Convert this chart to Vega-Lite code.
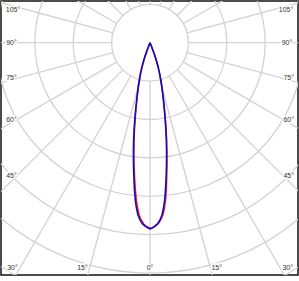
{
  "$schema": "https://vega.github.io/schema/vega-lite/v6.json",
  "width": 297,
  "height": 274,
  "autosize": {"type": "none"},
  "padding": {"left": 1, "top": 1, "right": 1, "bottom": 6},
  "background": "white",
  "config": {"view": {"stroke": "#111111", "strokeWidth": 1.5}},
  "datasets": {
    "rings": [{"r": 100}, {"r": 200}, {"r": 300}, {"r": 400}, {"r": 500}, {"r": 600}, {"r": 700}],
    "spokes": [
      {"a": 0, "x": 0, "y": -100, "x2": 0, "y2": -800},
      {"a": 15, "x": 25.88, "y": -96.59, "x2": 207.06, "y2": -772.74},
      {"a": 30, "x": 50, "y": -86.6, "x2": 400, "y2": -692.82},
      {"a": 45, "x": 70.71, "y": -70.71, "x2": 565.69, "y2": -565.69},
      {"a": 60, "x": 86.6, "y": -50, "x2": 692.82, "y2": -400},
      {"a": 75, "x": 96.59, "y": -25.88, "x2": 772.74, "y2": -207.06},
      {"a": 90, "x": 100, "y": 0, "x2": 800, "y2": 0},
      {"a": 105, "x": 96.59, "y": 25.88, "x2": 772.74, "y2": 207.06},
      {"a": 120, "x": 86.6, "y": 50, "x2": 692.82, "y2": 400},
      {"a": 135, "x": 70.71, "y": 70.71, "x2": 565.69, "y2": 565.69},
      {"a": 150, "x": 50, "y": 86.6, "x2": 400, "y2": 692.82},
      {"a": 165, "x": 25.88, "y": 96.59, "x2": 207.06, "y2": 772.74},
      {"a": 180, "x": 0, "y": 100, "x2": 0, "y2": 800},
      {"a": 195, "x": -25.88, "y": 96.59, "x2": -207.06, "y2": 772.74},
      {"a": 210, "x": -50, "y": 86.6, "x2": -400, "y2": 692.82},
      {"a": 225, "x": -70.71, "y": 70.71, "x2": -565.69, "y2": 565.69},
      {"a": 240, "x": -86.6, "y": 50, "x2": -692.82, "y2": 400},
      {"a": 255, "x": -96.59, "y": 25.88, "x2": -772.74, "y2": 207.06},
      {"a": 270, "x": -100, "y": 0, "x2": -800, "y2": 0},
      {"a": 285, "x": -96.59, "y": -25.88, "x2": -772.74, "y2": -207.06},
      {"a": 300, "x": -86.6, "y": -50, "x2": -692.82, "y2": -400},
      {"a": 315, "x": -70.71, "y": -70.71, "x2": -565.69, "y2": -565.69},
      {"a": 330, "x": -50, "y": -86.6, "x2": -400, "y2": -692.82},
      {"a": 345, "x": -25.88, "y": -96.59, "x2": -207.06, "y2": -772.74}
    ],
    "curve": [
      {"s": "C90", "i": 0, "x": 0, "y": 0},
      {"s": "C90", "i": 1, "x": -4.0, "y": -10.0},
      {"s": "C90", "i": 2, "x": -8.5, "y": -22.0},
      {"s": "C90", "i": 3, "x": -13.3, "y": -36.0},
      {"s": "C90", "i": 4, "x": -17.6, "y": -50.3},
      {"s": "C90", "i": 5, "x": -21.5, "y": -65.0},
      {"s": "C90", "i": 6, "x": -24.8, "y": -80.0},
      {"s": "C90", "i": 7, "x": -27.8, "y": -96.0},
      {"s": "C90", "i": 8, "x": -30.6, "y": -114.0},
      {"s": "C90", "i": 9, "x": -33.4, "y": -136.2},
      {"s": "C90", "i": 10, "x": -36.2, "y": -162.2},
      {"s": "C90", "i": 11, "x": -38.9, "y": -190.9},
      {"s": "C90", "i": 12, "x": -41.1, "y": -222.1},
      {"s": "C90", "i": 13, "x": -42.6, "y": -253.4},
      {"s": "C90", "i": 14, "x": -43.2, "y": -284.6},
      {"s": "C90", "i": 15, "x": -43.0, "y": -318.5},
      {"s": "C90", "i": 16, "x": -41.9, "y": -352.3},
      {"s": "C90", "i": 17, "x": -40.4, "y": -383.6},
      {"s": "C90", "i": 18, "x": -38.3, "y": -409.6},
      {"s": "C90", "i": 19, "x": -35.2, "y": -430.5},
      {"s": "C90", "i": 20, "x": -31.3, "y": -448.7},
      {"s": "C90", "i": 21, "x": -26.0, "y": -461.7},
      {"s": "C90", "i": 22, "x": -19.5, "y": -472.1},
      {"s": "C90", "i": 23, "x": -11.7, "y": -478.6},
      {"s": "C90", "i": 24, "x": -5.2, "y": -482.6},
      {"s": "C90", "i": 25, "x": 0, "y": -484.6},
      {"s": "C90", "i": 26, "x": 5.2, "y": -482.6},
      {"s": "C90", "i": 27, "x": 11.7, "y": -478.6},
      {"s": "C90", "i": 28, "x": 19.5, "y": -472.1},
      {"s": "C90", "i": 29, "x": 26.0, "y": -461.7},
      {"s": "C90", "i": 30, "x": 31.3, "y": -448.7},
      {"s": "C90", "i": 31, "x": 35.2, "y": -430.5},
      {"s": "C90", "i": 32, "x": 38.3, "y": -409.6},
      {"s": "C90", "i": 33, "x": 40.4, "y": -383.6},
      {"s": "C90", "i": 34, "x": 41.9, "y": -352.3},
      {"s": "C90", "i": 35, "x": 43.0, "y": -318.5},
      {"s": "C90", "i": 36, "x": 43.2, "y": -284.6},
      {"s": "C90", "i": 37, "x": 42.6, "y": -253.4},
      {"s": "C90", "i": 38, "x": 41.1, "y": -222.1},
      {"s": "C90", "i": 39, "x": 38.9, "y": -190.9},
      {"s": "C90", "i": 40, "x": 36.2, "y": -162.2},
      {"s": "C90", "i": 41, "x": 33.4, "y": -136.2},
      {"s": "C90", "i": 42, "x": 30.6, "y": -114.0},
      {"s": "C90", "i": 43, "x": 27.8, "y": -96.0},
      {"s": "C90", "i": 44, "x": 24.8, "y": -80.0},
      {"s": "C90", "i": 45, "x": 21.5, "y": -65.0},
      {"s": "C90", "i": 46, "x": 17.6, "y": -50.3},
      {"s": "C90", "i": 47, "x": 13.3, "y": -36.0},
      {"s": "C90", "i": 48, "x": 8.5, "y": -22.0},
      {"s": "C90", "i": 49, "x": 4.0, "y": -10.0},
      {"s": "C90", "i": 50, "x": 0, "y": 0},
      {"s": "C0", "i": 0, "x": 0, "y": 0},
      {"s": "C0", "i": 1, "x": -3.6, "y": -10.0},
      {"s": "C0", "i": 2, "x": -8.0, "y": -22.0},
      {"s": "C0", "i": 3, "x": -12.8, "y": -36.0},
      {"s": "C0", "i": 4, "x": -17.0, "y": -50.3},
      {"s": "C0", "i": 5, "x": -20.9, "y": -65.0},
      {"s": "C0", "i": 6, "x": -24.2, "y": -80.0},
      {"s": "C0", "i": 7, "x": -27.1, "y": -96.0},
      {"s": "C0", "i": 8, "x": -29.9, "y": -114.0},
      {"s": "C0", "i": 9, "x": -32.6, "y": -136.2},
      {"s": "C0", "i": 10, "x": -35.4, "y": -162.2},
      {"s": "C0", "i": 11, "x": -38.0, "y": -190.9},
      {"s": "C0", "i": 12, "x": -40.1, "y": -222.1},
      {"s": "C0", "i": 13, "x": -41.5, "y": -253.4},
      {"s": "C0", "i": 14, "x": -41.9, "y": -284.6},
      {"s": "C0", "i": 15, "x": -41.5, "y": -318.5},
      {"s": "C0", "i": 16, "x": -40.0, "y": -352.3},
      {"s": "C0", "i": 17, "x": -38.0, "y": -383.6},
      {"s": "C0", "i": 18, "x": -35.6, "y": -409.6},
      {"s": "C0", "i": 19, "x": -32.2, "y": -430.5},
      {"s": "C0", "i": 20, "x": -28.2, "y": -448.7},
      {"s": "C0", "i": 21, "x": -22.8, "y": -461.7},
      {"s": "C0", "i": 22, "x": -16.4, "y": -472.1},
      {"s": "C0", "i": 23, "x": -8.6, "y": -478.6},
      {"s": "C0", "i": 24, "x": -2.1, "y": -482.6},
      {"s": "C0", "i": 25, "x": 2.8, "y": -484.0},
      {"s": "C0", "i": 26, "x": 8.2, "y": -481.6},
      {"s": "C0", "i": 27, "x": 14.8, "y": -477.0},
      {"s": "C0", "i": 28, "x": 22.4, "y": -470.1},
      {"s": "C0", "i": 29, "x": 28.9, "y": -459.7},
      {"s": "C0", "i": 30, "x": 34.2, "y": -446.7},
      {"s": "C0", "i": 31, "x": 38.0, "y": -428.5},
      {"s": "C0", "i": 32, "x": 40.8, "y": -407.6},
      {"s": "C0", "i": 33, "x": 42.5, "y": -381.6},
      {"s": "C0", "i": 34, "x": 43.6, "y": -350.3},
      {"s": "C0", "i": 35, "x": 44.2, "y": -318.5},
      {"s": "C0", "i": 36, "x": 44.1, "y": -284.6},
      {"s": "C0", "i": 37, "x": 43.3, "y": -253.4},
      {"s": "C0", "i": 38, "x": 41.7, "y": -222.1},
      {"s": "C0", "i": 39, "x": 39.4, "y": -190.9},
      {"s": "C0", "i": 40, "x": 36.7, "y": -162.2},
      {"s": "C0", "i": 41, "x": 33.8, "y": -136.2},
      {"s": "C0", "i": 42, "x": 31.0, "y": -114.0},
      {"s": "C0", "i": 43, "x": 28.1, "y": -96.0},
      {"s": "C0", "i": 44, "x": 25.0, "y": -80.0},
      {"s": "C0", "i": 45, "x": 21.7, "y": -65.0},
      {"s": "C0", "i": 46, "x": 17.8, "y": -50.3},
      {"s": "C0", "i": 47, "x": 13.4, "y": -36.0},
      {"s": "C0", "i": 48, "x": 8.6, "y": -22.0},
      {"s": "C0", "i": 49, "x": 4.1, "y": -10.0},
      {"s": "C0", "i": 50, "x": 0, "y": 0}
    ],
    "labels": [
      {"t": "105°", "x": -356.8, "y": 85.2},
      {"t": "90°", "x": -360.7, "y": 0},
      {"t": "75°", "x": -360.7, "y": -92.7},
      {"t": "60°", "x": -360.7, "y": -201.3},
      {"t": "45°", "x": -360.7, "y": -347.1},
      {"t": "30°", "x": -358.1, "y": -585.9},
      {"t": "15°", "x": -175.8, "y": -585.9},
      {"t": "0°", "x": 0, "y": -585.9},
      {"t": "15°", "x": 173.7, "y": -585.9},
      {"t": "30°", "x": 358.6, "y": -585.9},
      {"t": "45°", "x": 361.2, "y": -347.1},
      {"t": "60°", "x": 361.2, "y": -201.3},
      {"t": "75°", "x": 361.2, "y": -92.7},
      {"t": "90°", "x": 356.8, "y": 0},
      {"t": "105°", "x": 354.2, "y": 85.2}
    ]
  },
  "layer": [
    {
      "data": {"name": "rings"},
      "mark": {"type": "arc", "filled": false, "stroke": "#d2d2d2", "strokeWidth": 1.3, "theta": 0, "theta2": 6.2832, "clip": true},
      "encoding": {
        "x": {"datum": 0, "type": "quantitative", "scale": {"domain": [-388.0, 385.4], "nice": false, "zero": false}, "axis": null},
        "y": {"datum": 0, "type": "quantitative", "scale": {"domain": [-605, 108.6], "nice": false, "zero": false}, "axis": null},
        "radius": {"field": "r", "type": "quantitative", "stack": null, "scale": {"type": "linear", "domain": [0, 100], "range": [0, 38.4], "zero": true}, "legend": null}
      }
    },
    {
      "data": {"name": "spokes"},
      "mark": {"type": "rule", "stroke": "#d2d2d2", "strokeWidth": 1.3, "clip": true},
      "encoding": {
        "x": {"field": "x", "type": "quantitative", "scale": {"domain": [-388.0, 385.4], "nice": false, "zero": false}, "axis": null},
        "y": {"field": "y", "type": "quantitative", "scale": {"domain": [-605, 108.6], "nice": false, "zero": false}, "axis": null},
        "x2": {"field": "x2"},
        "y2": {"field": "y2"}
      }
    },
    {
      "data": {"name": "labels"},
      "mark": {"type": "text", "font": "Liberation Sans", "fontSize": 7, "align": "center", "baseline": "middle", "fill": "white", "stroke": "white", "strokeWidth": 3},
      "encoding": {
        "x": {"field": "x", "type": "quantitative", "scale": {"domain": [-388.0, 385.4], "nice": false, "zero": false}, "axis": null},
        "y": {"field": "y", "type": "quantitative", "scale": {"domain": [-605, 108.6], "nice": false, "zero": false}, "axis": null},
        "text": {"field": "t"}
      }
    },
    {
      "data": {"name": "labels"},
      "mark": {"type": "text", "font": "Liberation Sans", "fontSize": 7, "align": "center", "baseline": "middle", "fill": "#333333"},
      "encoding": {
        "x": {"field": "x", "type": "quantitative", "scale": {"domain": [-388.0, 385.4], "nice": false, "zero": false}, "axis": null},
        "y": {"field": "y", "type": "quantitative", "scale": {"domain": [-605, 108.6], "nice": false, "zero": false}, "axis": null},
        "text": {"field": "t"}
      }
    },
    {
      "data": {"name": "curve"},
      "transform": [{"filter": "datum.s == 'C0'"}],
      "mark": {"type": "line", "stroke": "#ff1a1a", "strokeWidth": 1.5, "clip": true},
      "encoding": {
        "x": {"field": "x", "type": "quantitative", "scale": {"domain": [-388.0, 385.4], "nice": false, "zero": false}, "axis": null},
        "y": {"field": "y", "type": "quantitative", "scale": {"domain": [-605, 108.6], "nice": false, "zero": false}, "axis": null},
        "order": {"field": "i", "type": "quantitative"}
      }
    },
    {
      "data": {"name": "curve"},
      "transform": [{"filter": "datum.s == 'C90'"}],
      "mark": {"type": "line", "stroke": "#0d0dc8", "strokeWidth": 1.6, "clip": true},
      "encoding": {
        "x": {"field": "x", "type": "quantitative", "scale": {"domain": [-388.0, 385.4], "nice": false, "zero": false}, "axis": null},
        "y": {"field": "y", "type": "quantitative", "scale": {"domain": [-605, 108.6], "nice": false, "zero": false}, "axis": null},
        "order": {"field": "i", "type": "quantitative"}
      }
    }
  ]
}
